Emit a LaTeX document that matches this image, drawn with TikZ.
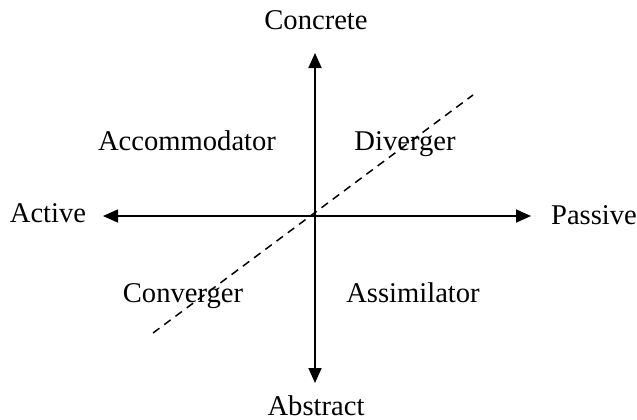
\documentclass[tikz,border=0pt]{standalone}
\usepackage{fontspec}
\setmainfont{Liberation Serif}
\usetikzlibrary{arrows.meta}
\begin{document}
\begin{tikzpicture}[x=0.5pt,y=-0.5pt,
			every node/.style={font=\fontsize{14.3}{16}\selectfont,anchor=base,inner sep=0pt},
			axis/.style={line width=0.85pt,-{Triangle[length=7.5pt,width=6.5pt]}},
			split/.style={line width=0.75pt,dash pattern=on 4pt off 3pt}]
			\useasboundingbox (0,0) rectangle (637,419);
			% axes
			\coordinate (o) at (315,216);
			\coordinate (up) at (315,53);
			\coordinate (down) at (315,383);
			\coordinate (left) at (103,216);
			\coordinate (right) at (531,216);
			\draw[axis] (o) -- (up);
			\draw[axis] (o) -- (down);
			\draw[axis] (o) -- (left);
			\draw[axis] (o) -- (right);
			% dashed diagonal
			\coordinate (ne) at (473,95);
			\coordinate (sw) at (153,333);
			\draw[split] (sw) -- (ne);
			% axis labels
			\node (concrete) at (316,29) {Concrete};
			\node (abstract) at (316,415) {Abstract};
			\node (active) at (48,222) {Active};
			\node (passive) at (594,224) {Passive};
			% quadrants
			\node (accom) at (187,150) {Accommodator};
			\node (diverg) at (405,150) {Diverger};
			\node (converg) at (183,302) {Converger};
			\node (assim) at (413,302) {Assimilator};
		\end{tikzpicture}
\end{document}
